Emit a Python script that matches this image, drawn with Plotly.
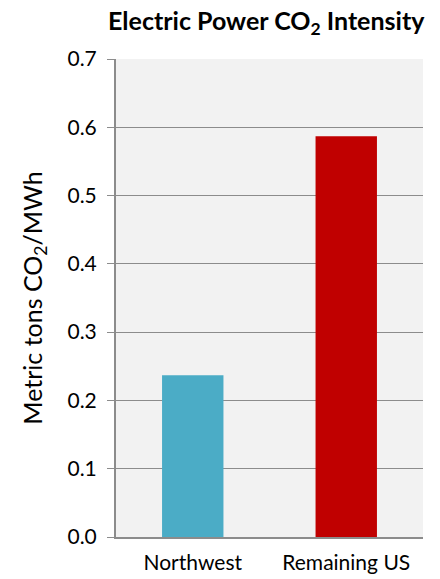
import plotly.graph_objects as go

categories = ["Northwest", "Remaining US"]
values = [0.237, 0.587]
colors = ["#4bacc6", "#c00000"]
y_ticks = [0.0, 0.1, 0.2, 0.3, 0.4, 0.5, 0.6, 0.7]
y_tick_labels = ["0.0", "0.1", "0.2", "0.3", "0.4", "0.5", "0.6", "0.7"]

FONT = "Lato, 'Open Sans', sans-serif"

fig = go.Figure(go.Bar(x=categories, y=values, marker=dict(color=colors, line=dict(width=0)),
                       width=0.4))

fig.update_layout(
    width=440, height=579,
    margin=dict(l=116, r=17, t=59, b=42),
    paper_bgcolor="white",
    plot_bgcolor="#f2f2f2",
    showlegend=False,
    font=dict(family=FONT, color="black"),
    title=dict(text="<b>Electric Power CO<sub>2</sub> Intensity</b>",
               x=0.605, xanchor="center", y=0.963, yanchor="middle",
               font=dict(size=25, family=FONT, color="black"),
               automargin=False),
)
fig.update_yaxes(
    range=[0, 0.7], tickvals=y_ticks, ticktext=y_tick_labels,
    showgrid=True, gridcolor="#8c8c8c", gridwidth=1,
    showline=True, linecolor="#8c8c8c", linewidth=2,
    ticks="outside", ticklen=7, tickcolor="#8c8c8c", tickwidth=1,
    ticklabelstandoff=6,
    tickfont=dict(size=21, family=FONT, color="black"),
    title=dict(text="Metric tons CO<sub>2</sub>/MWh", font=dict(size=25, family=FONT, color="black"),
               standoff=18),
    zeroline=False,
    automargin=False,
)
fig.update_xaxes(
    showline=True, linecolor="#8c8c8c", linewidth=2,
    ticks="", tickfont=dict(size=21, family=FONT, color="black"),
    ticklabelstandoff=6,
    automargin=False,
)

fig.write_html("out.html")
